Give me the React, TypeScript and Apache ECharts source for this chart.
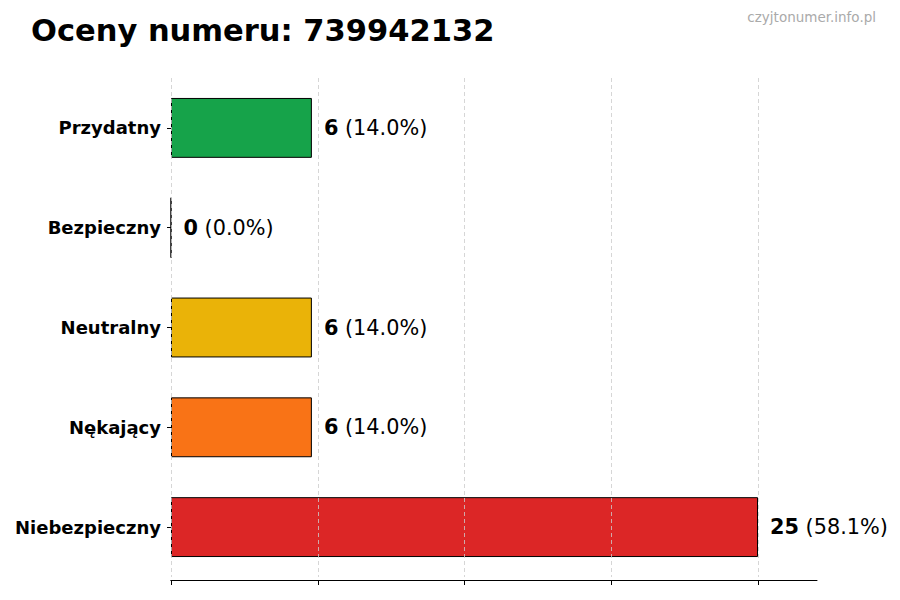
import React, { useEffect, useRef } from "react";
import * as echarts from "echarts";

const categories = ["Przydatny", "Bezpieczny", "Neutralny", "Nękający", "Niebezpieczny"];
const counts = [6, 0, 6, 6, 25];
const percents = ["14.0%", "0.0%", "14.0%", "14.0%", "58.1%"];
const colors = ["#16a34a", "#3b82f6", "#eab308", "#f97316", "#dc2626"];
const xTicks = [0, 6.25, 12.5, 18.75, 25];
const xAxisMax = 27.5;
const titleText = "Oceny numeru: 739942132";
const watermark = "czyjtonumer.info.pl";

const FONT = "DejaVu Sans";

export default function App() {
  const ref = useRef<HTMLDivElement>(null);
  useEffect(() => {
    document.body.style.margin = "0";
    const chart = echarts.init(ref.current!, null, { renderer: "svg" });
    const tickInterval = xTicks[1] - xTicks[0];
    chart.setOption({
      animation: false,
      backgroundColor: "#ffffff",
      title: [
        {
          text: titleText,
          left: 31,
          top: 15,
          padding: 0,
          textStyle: { fontFamily: FONT, fontWeight: "bold", fontSize: 30.5, color: "#000" },
        },
        {
          text: watermark,
          right: 24,
          top: 10,
          padding: 0,
          textStyle: { fontFamily: FONT, fontWeight: "normal", fontSize: 13.5, color: "#aaaaaa" },
        },
      ],
      grid: [
        { left: 171, right: 142, top: 78, bottom: 23, containLabel: false },
        { left: 171, right: 83, top: 78, bottom: 23, containLabel: false },
      ],
      xAxis: [
        {
          type: "value",
          gridIndex: 0,
          min: 0,
          max: xTicks[xTicks.length - 1],
          interval: tickInterval,
          offset: 3,
          z: 5,
          axisLine: { show: true, lineStyle: { color: "#000", width: 1 } },
          axisTick: { show: true, length: 5, lineStyle: { color: "#000", width: 1 } },
          axisLabel: { show: false },
          splitLine: { show: true, lineStyle: { color: "#cccccc", type: [4, 3], width: 0.8 } },
        },
        {
          type: "value",
          gridIndex: 1,
          min: 0,
          max: xAxisMax,
          offset: 3,
          axisLine: { show: true, lineStyle: { color: "#000", width: 1 } },
          axisTick: { show: false },
          axisLabel: { show: false },
          splitLine: { show: false },
        },
      ],
      yAxis: [
        {
          type: "category",
          gridIndex: 0,
          data: categories,
          inverse: true,
          axisLine: { show: false },
          axisTick: { show: true, alignWithLabel: true, length: 4, lineStyle: { color: "#000" } },
          axisLabel: {
            margin: 10,
            fontFamily: FONT,
            fontWeight: "bold",
            fontSize: 18,
            color: "#000",
          },
          splitLine: { show: false },
        },
        {
          type: "category",
          gridIndex: 1,
          data: categories,
          show: false,
        },
      ],
      series: [
        {
          type: "bar",
          xAxisIndex: 0,
          yAxisIndex: 0,
          z: 2,
          barWidth: "60%",
          data: counts.map((v, i) => ({
            value: v,
            itemStyle: { color: colors[i], borderColor: "#000", borderWidth: 1 },
          })),
          label: {
            show: true,
            position: "right",
            distance: 12,
            formatter: (p: any) => `{b|${counts[p.dataIndex]}}{r| (${percents[p.dataIndex]})}`,
            rich: {
              b: { fontFamily: FONT, fontWeight: "bold", fontSize: 20.8, color: "#000" },
              r: { fontFamily: FONT, fontWeight: "normal", fontSize: 20.8, color: "#000" },
            },
          },
        },
      ],
    });
    return () => chart.dispose();
  }, []);
  return <div ref={ref} style={{ width: 900, height: 600 }} />;
}
